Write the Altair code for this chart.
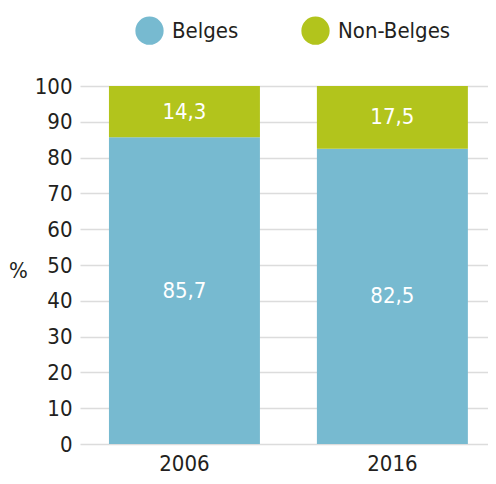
import altair as alt
import pandas as pd

years = ["2006", "2016"]
belges = [85.7, 82.5]
non_belges = [14.3, 17.5]
groups = ["Belges", "Non-Belges"]
colors = ["#77bad0", "#b2c41c"]
y_ticks = [0, 10, 20, 30, 40, 50, 60, 70, 80, 90, 100]

FONT = "Liberation Sans Narrow, DejaVu Sans Condensed, sans-serif"
TXT = "#231f20"

rows = []
for i, yr in enumerate(years):
    for j, (g, vals) in enumerate(zip(groups, [belges, non_belges])):
        rows.append(dict(year=yr, group=g, order=j, value=vals[i],
                         label=f"{vals[i]:.1f}".replace(".", ",")))
df = pd.DataFrame(rows)

base = alt.Chart(df).transform_stack(
    stack="value", as_=["y0", "y1"], groupby=["year"],
    sort=[alt.SortField("order", order="ascending")]
).transform_calculate(mid="(datum.y0 + datum.y1) / 2")

xscale = alt.Scale(paddingInner=0.274, paddingOuter=0.118, align=0.59)
yscale = alt.Scale(domain=[0, 100])
xaxis = alt.Axis(title=None, labelAngle=0, domain=False, ticks=False,
                 labelPadding=9, labelFontSize=22, labelFont=FONT, labelColor=TXT)
yaxis = alt.Axis(values=y_ticks, grid=True, gridColor="#dcdcdc", gridWidth=1.5,
                 domain=False, ticks=False, labelPadding=8, labelOverlap=False,
                 labelFontSize=22, labelFont=FONT, labelColor=TXT,
                 title="%", titleAngle=0, titleX=-62, titleY=184,
                 titleAlign="center", titleBaseline="middle",
                 titleFontSize=22, titleFont=FONT, titleFontWeight="normal",
                 titleColor=TXT)

bars = base.mark_bar().encode(
    x=alt.X("year:N", scale=xscale, axis=xaxis),
    y=alt.Y("y0:Q", scale=yscale, axis=yaxis),
    y2="y1:Q",
    color=alt.Color("group:N", scale=alt.Scale(domain=groups, range=colors),
                    legend=alt.Legend(title=None, orient="none", direction="horizontal",
                                      legendX=55, legendY=-70, symbolType="circle",
                                      symbolSize=800, symbolStrokeWidth=0,
                                      labelFontSize=22, labelFont=FONT, labelColor=TXT,
                                      labelOffset=8, columnPadding=62)),
)

text = base.mark_text(color="white", fontSize=22, font=FONT).encode(
    x=alt.X("year:N", scale=xscale, axis=xaxis),
    y=alt.Y("mid:Q", scale=yscale, axis=yaxis),
    text="label:N",
)

chart = (bars + text).properties(
    width=408, height=358,
    autosize=alt.AutoSizeParams(type="none"),
    padding={"left": 72, "top": 78, "right": 0, "bottom": 32},
).configure_view(stroke=None)

chart.save("out.html", embed_options={"renderer": "svg", "actions": False})
